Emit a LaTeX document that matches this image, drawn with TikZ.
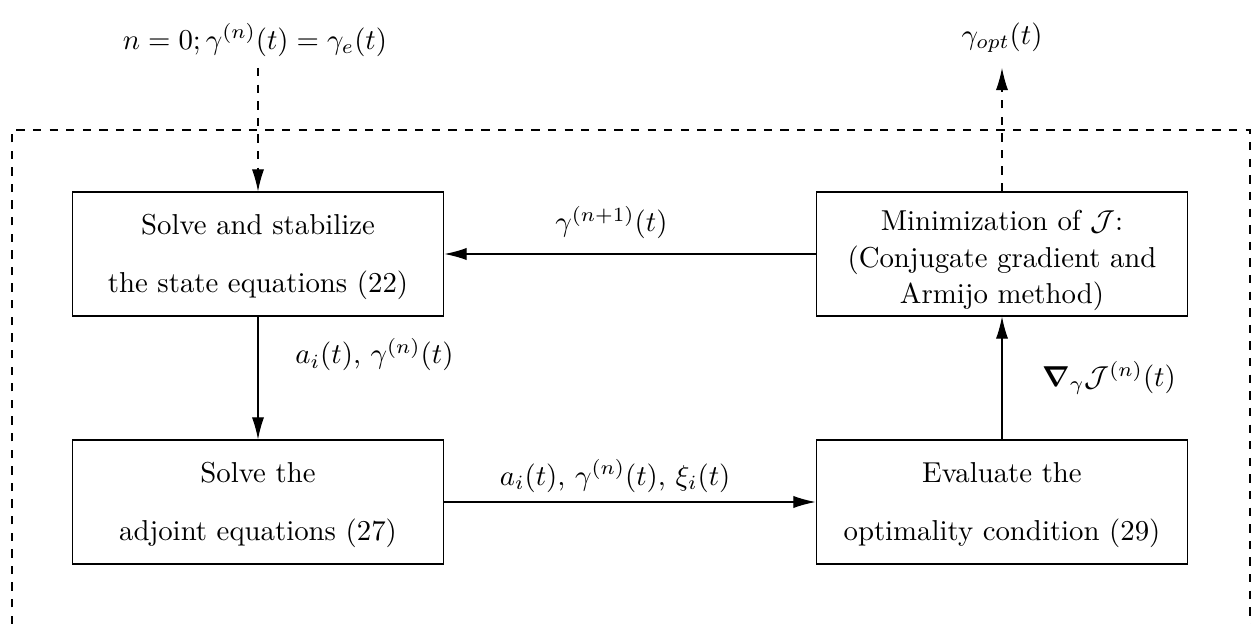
\RequirePackage{fix-cm}
\documentclass[tikz,border=0pt]{standalone}
\usepackage{amsmath}
\usetikzlibrary{arrows.meta}

\tikzset{
  block/.style={draw,align=center,minimum width=4.72cm,minimum height=1.575cm,inner sep=0pt},
  flow/.style={-{Latex[length=8pt,width=4.4pt]}},
  every node/.style={font=\fontsize{10.4pt}{12.6pt}\selectfont}
}

\begin{document}
\begin{tikzpicture}[x=0.0127cm,y=-0.0127cm]
      \useasboundingbox (0,0) rectangle (1251,624);
      \draw
        (258,254) node[block] (0){\rule{0pt}{9.5pt}Solve and stabilize\\[8.4pt]the state equations (22)}
        (1002,254) node[block] (1){\rule{0pt}{12pt}Minimization of $\mathcal{J}$:\\[0.6pt](Conjugate gradient and\\[0.6pt]Armijo method)}
        (258,502) node[block] (2){\rule{0pt}{9.5pt}Solve the\\[8.4pt]adjoint equations (27)}
        (1002,502) node[block] (3){\rule{0pt}{9.5pt}Evaluate the\\[8.4pt]optimality condition (29)}
        (255,40) node (init){$n=0; \gamma^{(n)}(t)=\gamma_e(t)$}
        (1002,38) node (opt){$\gamma_{opt}(t)$};
      \coordinate (in) at (258,68);
      \coordinate (out) at (1002,68);
      % dashed loop frame
      \draw[dashed] (12,624) |- (1250,130) -- (1250,624);
      \begin{scope}[flow]
        \draw[dashed] (in) to (0);
        \draw[dashed] (1) to (out);
        \draw (1) to node[above=2pt,pos=0.55] {$\gamma^{(n+1)}(t)$} (0);
        \draw (0) to node[right=10pt,pos=0.31] {$a_i(t)$, $\gamma^{(n)}(t)$} (2);
        \draw (2) to node[above,pos=0.46] {$a_i(t)$, $\gamma^{(n)}(t)$, $\xi_i(t)$} (3);
        \draw (3) to node[right=11pt,pos=0.5] {$\boldsymbol{\nabla}_\gamma\mathcal{J}^{(n)}(t)$} (1);
      \end{scope}
    \end{tikzpicture}
\end{document}
